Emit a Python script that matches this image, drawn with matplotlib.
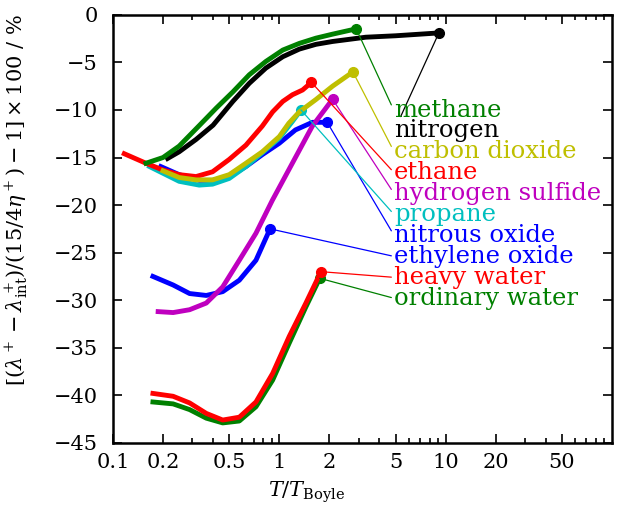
import matplotlib
matplotlib.use("Agg")
import matplotlib.pyplot as plt
from matplotlib.ticker import FixedLocator, FixedFormatter, NullFormatter, LogLocator

plt.rcParams['font.family'] = ['DejaVu Serif']
plt.rcParams['mathtext.fontset'] = 'dejavuserif'
plt.rcParams['axes.unicode_minus'] = True

# reduced temperature T/T_Boyle and deviation in %
names = ['methane', 'nitrogen', 'carbon dioxide', 'ethane', 'hydrogen sulfide',
         'propane', 'nitrous oxide', 'ethylene oxide', 'heavy water', 'ordinary water']
colors = ['g', 'k', 'y', 'r', 'm', 'c', 'b', 'b', 'r', 'g']

methane_x = [0.158, 0.2, 0.25, 0.332, 0.418, 0.526, 0.66, 0.83, 1.05, 1.32, 1.66, 2.09, 2.9]
methane_y = [-15.6, -15.0, -13.8, -11.6, -9.8, -8.1, -6.3, -4.9, -3.7, -3.0, -2.45, -2.03, -1.47]
nitrogen_x = [0.213, 0.25, 0.316, 0.40, 0.526, 0.66, 0.83, 1.05, 1.32, 1.66, 2.09, 3.31, 5.0, 9.1]
nitrogen_y = [-15.1, -14.4, -13.1, -11.6, -9.1, -7.2, -5.6, -4.4, -3.6, -3.1, -2.8, -2.35, -2.2, -1.9]
co2_x = [0.2, 0.25, 0.316, 0.397, 0.5, 0.63, 0.79, 1.0, 1.14, 1.32, 1.66, 2.09, 2.77]
co2_y = [-16.4, -17.1, -17.35, -17.35, -16.8, -15.6, -14.4, -12.8, -11.4, -10.2, -8.9, -7.5, -6.0]
ethane_x = [0.117, 0.158, 0.199, 0.25, 0.316, 0.397, 0.5, 0.63, 0.79, 0.912, 1.05, 1.2, 1.38, 1.56]
ethane_y = [-14.6, -15.6, -16.3, -16.8, -17.0, -16.5, -15.2, -13.7, -11.7, -10.2, -9.1, -8.4, -7.9, -7.1]
h2s_x = [0.187, 0.23, 0.289, 0.364, 0.457, 0.575, 0.724, 0.908, 1.58, 2.09]
h2s_y = [-31.2, -31.3, -31.0, -30.3, -28.6, -25.8, -22.96, -19.5, -11.7, -8.87]
propane_x = [0.166, 0.25, 0.33, 0.397, 0.5, 0.63, 0.79, 1.0, 1.2, 1.35]
propane_y = [-15.95, -17.5, -17.9, -17.8, -17.2, -15.95, -14.5, -12.97, -11.2, -10.0]
n2o_x = [0.194, 0.25, 0.33, 0.397, 0.5, 0.63, 0.79, 1.0, 1.25, 1.58, 1.94]
n2o_y = [-15.95, -16.8, -17.4, -17.4, -17.0, -15.95, -14.7, -13.5, -12.1, -11.3, -11.3]
eo_x = [0.174, 0.23, 0.289, 0.364, 0.457, 0.575, 0.724, 0.88]
eo_y = [-27.5, -28.4, -29.3, -29.5, -29.1, -27.9, -25.8, -22.5]
d2o_x = [0.174, 0.23, 0.289, 0.364, 0.457, 0.575, 0.724, 0.912, 1.148, 1.445, 1.78]
d2o_y = [-39.8, -40.1, -40.8, -41.9, -42.6, -42.3, -40.7, -37.7, -33.8, -30.3, -27.0]
h2o_x = [0.174, 0.23, 0.289, 0.364, 0.457, 0.575, 0.724, 0.912, 1.148, 1.445, 1.75]
h2o_y = [-40.7, -40.9, -41.5, -42.4, -42.9, -42.7, -41.2, -38.4, -34.5, -30.7, -27.7]

series_x = [methane_x, nitrogen_x, co2_x, ethane_x, h2s_x, propane_x, n2o_x, eo_x, d2o_x, h2o_x]
series_y = [methane_y, nitrogen_y, co2_y, ethane_y, h2s_y, propane_y, n2o_y, eo_y, d2o_y, h2o_y]

label_x = 4.9
label_y = [-10.1, -12.2, -14.4, -16.6, -18.8, -21.0, -23.2, -25.4, -27.6, -29.8]

fig = plt.figure(figsize=(6.17, 5.12), dpi=100)
ax = fig.add_axes([0.183, 0.135, 0.809, 0.836])

for i in reversed(range(len(names))):
    xs, ys, c = series_x[i], series_y[i], colors[i]
    ax.plot(xs, ys, color=c, lw=3.5, solid_joinstyle='round')
    ax.plot(xs[-1], ys[-1], 'o', color=c, ms=7, mec=c)
    ax.annotate(names[i], xy=(xs[-1], ys[-1]), xytext=(label_x, label_y[i]),
                color=c, fontsize=17.5, ha='left', va='center',
                arrowprops=dict(arrowstyle='-', color=c, lw=0.9, relpos=(0, 0.5),
                                shrinkA=0, shrinkB=0))

ax.set_xscale('log')
ax.set_xlim(0.1, 100)
ax.set_ylim(-45, 0)
xt = [0.1, 0.2, 0.5, 1, 2, 5, 10, 20, 50]
ax.xaxis.set_major_locator(FixedLocator(xt))
ax.xaxis.set_major_formatter(FixedFormatter(['0.1', '0.2', '0.5', '1', '2', '5', '10', '20', '50']))
ax.xaxis.set_minor_locator(LogLocator(base=10, subs=[3, 4, 6, 7, 8, 9]))
ax.xaxis.set_minor_formatter(NullFormatter())
ax.set_yticks(range(-45, 1, 5))

ax.tick_params(which='both', direction='in', top=True, right=True, labelsize=15, width=1.2)
ax.tick_params(which='major', length=6.5)
ax.tick_params(which='minor', length=3.5)
ax.tick_params(axis='x', pad=7)
ax.tick_params(axis='y', pad=11)
for s in ax.spines.values():
    s.set_linewidth(1.8)

ax.set_xlabel(r'$T/T_{\rm Boyle}$', fontsize=15)
ax.set_ylabel(r'$[(\lambda^+ - \lambda^+_{\rm int})/(15/4\eta^+) - 1] \times 100$ / %', fontsize=15)
ax.xaxis.set_label_coords(0.388, -0.085)
ax.yaxis.set_label_coords(-0.165, 0.568)

fig.savefig('out.png', dpi=100)
